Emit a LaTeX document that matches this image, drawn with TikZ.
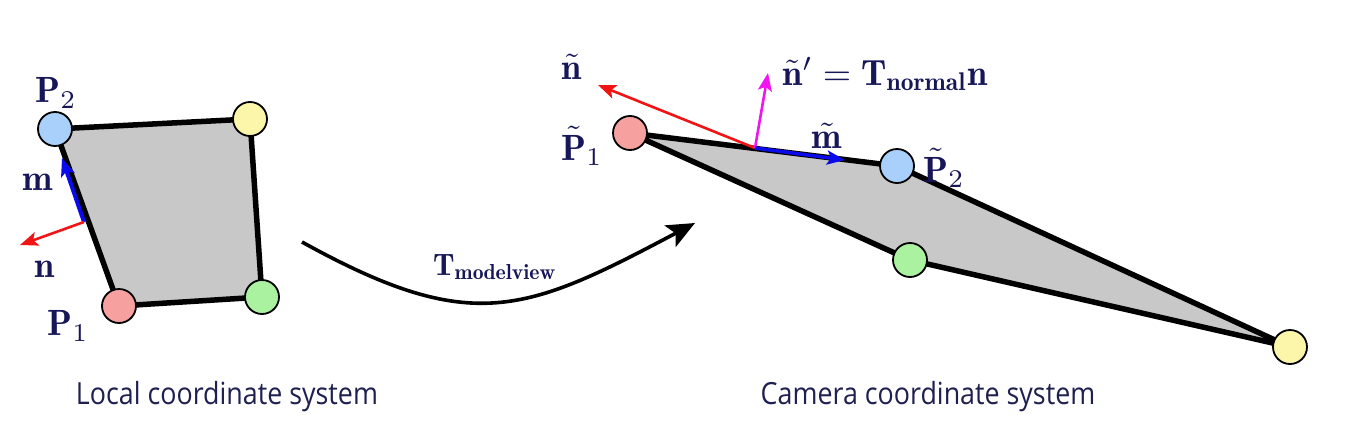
\documentclass[tikz,border=0pt]{standalone}
\usepackage{amsmath}
\usepackage{graphicx}
\usepackage{fontspec}
\newfontfamily\capfont[FakeStretch=0.88]{Open Sans}
\usetikzlibrary{arrows.meta}
\newcommand{\lb}[1]{\scalebox{3.65}{$#1$}}
\definecolor{labelc}{RGB}{22,22,88}
\definecolor{capc}{RGB}{30,32,80}
\definecolor{quadfill}{RGB}{200,200,200}
\definecolor{cred}{RGB}{246,160,160}
\definecolor{cblue}{RGB}{168,208,250}
\definecolor{cyellow}{RGB}{252,246,170}
\definecolor{cgreen}{RGB}{170,242,160}
\definecolor{vred}{RGB}{240,20,20}
\definecolor{vblue}{RGB}{10,10,235}
\definecolor{vmag}{RGB}{240,20,240}
\tikzset{
  vertex/.style={circle, draw=black, line width=1.8pt, minimum size=34pt, inner sep=0pt},
  quad/.style={fill=quadfill, draw=black, line width=5.5pt, line join=round},
  lbl/.style={text=labelc, inner sep=0pt},
  captext/.style={text=capc, font=\capfont\fontsize{30.5}{36}\selectfont, inner sep=0pt},
  vec/.style={line width=2.6pt, -{Stealth[length=18pt,width=14pt,inset=4pt]}},
  bigarrow/.style={line width=3.6pt, -{Stealth[length=28pt,width=24pt,inset=6pt]}}
}
\begin{document}
\begin{tikzpicture}[x=1pt,y=-1pt]
\useasboundingbox (0,0) rectangle (1360,442);
% ---------- local quad ----------
\coordinate (a1) at (119,306);
\coordinate (a2) at (55,129);
\coordinate (a3) at (250,119);
\coordinate (a4) at (262,297);
\draw[quad] (a1) -- (a2) -- (a3) -- (a4) -- cycle;
\coordinate (mbase) at (84,222);
\coordinate (mtip) at (62,158);
\coordinate (ntip) at (20,245);
\draw[vec, draw=vblue, line width=4pt] (mbase) -- (mtip);
\draw[vec, draw=vred, fill=vred] (mbase) -- (ntip);
\node[vertex, fill=cred] (v1) at (a1) {};
\node[vertex, fill=cblue] (v2) at (a2) {};
\node[vertex, fill=cyellow] (v3) at (a3) {};
\node[vertex, fill=cgreen] (v4) at (a4) {};
\node[lbl] (lp2) at (56,93) {\lb{\mathbf{P}_2}};
\node[lbl] (lm) at (38,182) {\lb{\mathbf{m}}};
\node[lbl] (ln) at (45,269) {\lb{\mathbf{n}}};
\node[lbl] (lp1) at (68,326) {\lb{\mathbf{P}_1}};
% ---------- camera quad ----------
\coordinate (b1) at (630,133);
\coordinate (b2) at (897,166);
\coordinate (b3) at (1290,347);
\coordinate (b4) at (910,260);
\draw[quad] (b1) -- (b2) -- (b3) -- (b4) -- cycle;
\coordinate (jn) at (755,148);
\coordinate (nttip) at (598,85);
\coordinate (nptip) at (768,73);
\coordinate (mttip) at (845,160);
\draw[vec, draw=vred, fill=vred] (jn) -- (nttip);
\draw[vec, draw=vmag, fill=vmag] (jn) -- (nptip);
\draw[vec, draw=vblue, fill=vblue, line width=3.5pt] (jn) -- (mttip);
\node[vertex, fill=cred] (w1) at (b1) {};
\node[vertex, fill=cblue] (w2) at (b2) {};
\node[vertex, fill=cyellow] (w3) at (b3) {};
\node[vertex, fill=cgreen] (w4) at (b4) {};
\node[lbl] (lnt) at (572,67) {\lb{\tilde{\mathbf{n}}}};
\node[lbl] (lpt1) at (582,146) {\lb{\tilde{\mathbf{P}}_1}};
\node[lbl] (lmt) at (827,136) {\lb{\tilde{\mathbf{m}}}};
\node[lbl] (lpt2) at (944,168) {\lb{\tilde{\mathbf{P}}_2}};
\node[lbl, anchor=base west] (lnp) at (782,85) {\lb{\tilde{\mathbf{n}}' = \mathbf{T}_{\mathbf{normal}}\mathbf{n}}};
% ---------- transform arrow ----------
\coordinate (ts) at (302,242);
\coordinate (te) at (695,223);
\draw[bigarrow] (ts) .. controls (472,336) and (525,313) .. (te);
\node[lbl, anchor=base west] (lt) at (433,275) {\scalebox{3.1}{$\mathbf{T}_{\mathbf{modelview}}$}};
% ---------- captions ----------
\node[captext, anchor=base] (c1) at (227,404) {Local coordinate system};
\node[captext, anchor=base] (c2) at (928,404) {Camera coordinate system};
\end{tikzpicture}
\end{document}
